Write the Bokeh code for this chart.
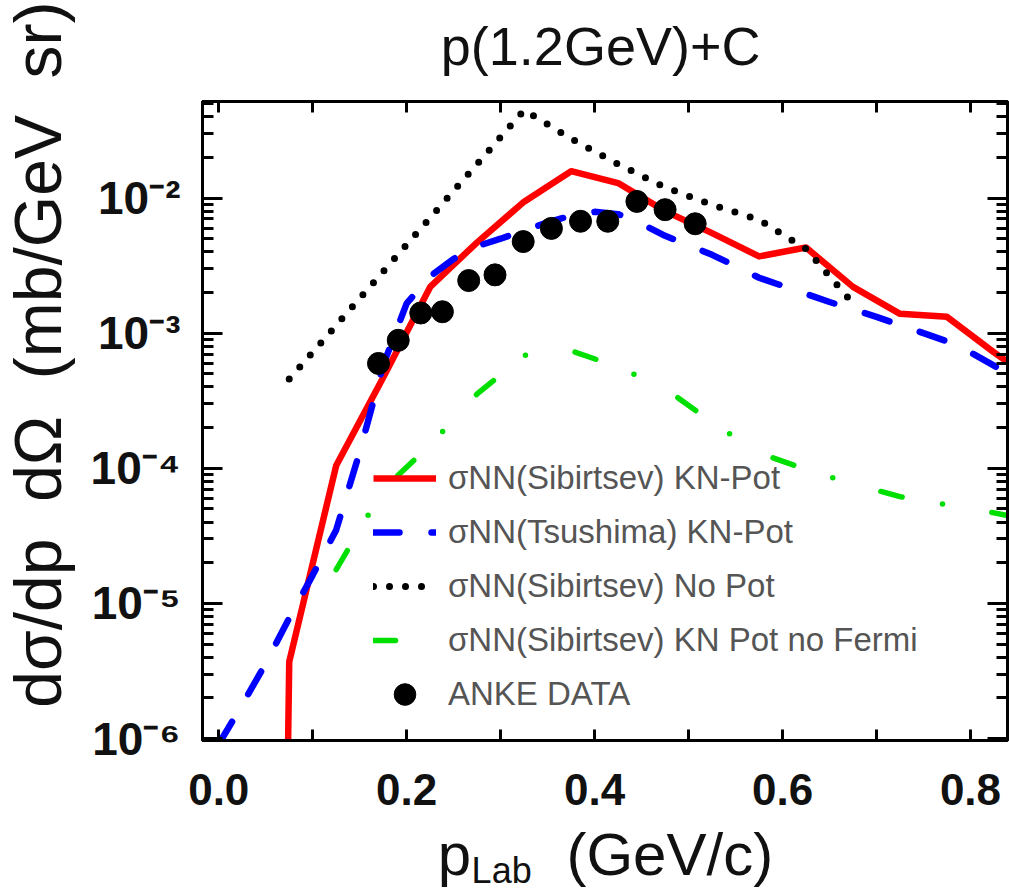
from bokeh.plotting import figure
from bokeh.models import (LinearAxis, LogAxis, FixedTicker, PrintfTickFormatter,
                          CustomJSTickFormatter, Range1d, Label, Legend, LegendItem)
from bokeh.embed import file_html
from bokeh.resources import INLINE

# --- model curves: d(sigma)/dp dOmega in mb/(GeV sr) vs p_Lab in GeV/c ---
sib_kn_p = [0.025, 0.075, 0.125, 0.175, 0.225, 0.275, 0.325, 0.375, 0.425,
            0.475, 0.525, 0.575, 0.625, 0.675, 0.725, 0.775, 0.825, 0.875]
sib_kn_xs = [1e-30, 3.7e-6, 1.05e-4, 4.7e-4, 2.2e-3, 4.7e-3, 9.4e-3, 1.58e-2, 1.29e-2,
             8.0e-3, 5.5e-3, 3.7e-3, 4.3e-3, 2.2e-3, 1.39e-3, 1.32e-3, 7.2e-4, 4.1e-4]

tsu_kn_p = [0.0, 0.025, 0.05, 0.075, 0.1, 0.125, 0.15, 0.175, 0.2, 0.225, 0.25, 0.275,
            0.3, 0.325, 0.35, 0.375, 0.4, 0.425, 0.45, 0.475, 0.5, 0.525, 0.55, 0.575,
            0.6, 0.625, 0.65, 0.675, 0.7, 0.725, 0.75, 0.775, 0.8, 0.825, 0.85]
tsu_kn_xs = [9.1e-7, 1.78e-6, 3.6e-6, 7.8e-6, 1.62e-5, 3.5e-5, 1.32e-4, 5.8e-4, 1.66e-3,
             2.63e-3, 3.55e-3, 4.4e-3, 5.0e-3, 5.75e-3, 6.6e-3, 7.4e-3, 7.9e-3, 7.6e-3,
             6.45e-3, 5.25e-3, 4.47e-3, 3.8e-3, 3.13e-3, 2.57e-3, 2.24e-3, 1.95e-3,
             1.70e-3, 1.50e-3, 1.32e-3, 1.15e-3, 1.0e-3, 8.7e-4, 7.2e-4, 5.75e-4, 4.5e-4]

sib_nopot_p = [0.075, 0.325, 0.375, 0.425, 0.475, 0.525, 0.575, 0.625, 0.675]
sib_nopot_xs = [4.57e-4, 4.47e-2, 2.75e-2, 1.78e-2, 1.2e-2, 8.9e-3, 6.9e-3, 4.2e-3, 1.66e-3]

sib_nofermi_p = [0.125, 0.175, 0.225, 0.275, 0.325, 0.375, 0.425, 0.475, 0.525,
                 0.575, 0.625, 0.675, 0.725, 0.775, 0.825, 0.875]
sib_nofermi_xs = [1.78e-5, 6.97e-5, 1.49e-4, 3.55e-4, 6.84e-4, 7.41e-4, 5.62e-4, 3.89e-4,
                  2.19e-4, 1.30e-4, 9.8e-5, 7.66e-5, 6.17e-5, 5.37e-5, 4.68e-5, 3.98e-5]

# --- ANKE measurement ---
anke_p = [0.170, 0.191, 0.215, 0.238, 0.266, 0.294, 0.324, 0.354, 0.385, 0.414,
          0.445, 0.475, 0.507]
anke_xs = [5.97e-4, 8.85e-4, 1.41e-3, 1.44e-3, 2.45e-3, 2.70e-3, 4.76e-3, 5.96e-3,
           6.73e-3, 6.73e-3, 9.44e-3, 8.2e-3, 6.45e-3]

legend_labels = ["\u03c3NN(Sibirtsev) KN-Pot", "\u03c3NN(Tsushima) KN-Pot",
                 "\u03c3NN(Sibirtsev) No Pot", "\u03c3NN(Sibirtsev) KN Pot no Fermi",
                 "ANKE DATA"]

x_major = [0.0, 0.2, 0.4, 0.6, 0.8]
x_minor = [0.1, 0.3, 0.5, 0.7]
y_major = [1e-6, 1e-5, 1e-4, 1e-3, 1e-2]
y_minor = [m * d for d in [1e-7, 1e-6, 1e-5, 1e-4, 1e-3, 1e-2] for m in range(2, 10)]

FONT = "Liberation Sans"

p = figure(width=1009, height=895, y_axis_type="log",
           x_range=Range1d(-0.0173, 0.8394), y_range=Range1d(0.967e-6, 0.0518),
           output_backend="svg", toolbar_location=None,
           min_border_left=202, min_border_right=2, min_border_top=96,
           min_border_bottom=155)
p.grid.visible = False
p.outline_line_color = "black"
p.outline_line_width = 3
p.background_fill_color = "white"
p.border_fill_color = "white"

sup_code = """
const sup = {"-": "\u207b", "0": "\u2070", "1": "\u00b9", "2": "\u00b2", "3": "\u00b3",
             "4": "\u2074", "5": "\u2075", "6": "\u2076", "7": "\u2077", "8": "\u2078",
             "9": "\u2079"};
const e = Math.round(Math.log10(tick));
return "10" + String(e).split("").map(c => sup[c]).join("");
"""


def frame_axis(ax, tick_in, minor_in):
    ax.axis_line_width = 3
    ax.major_tick_line_width = 3
    ax.minor_tick_line_width = 3
    ax.major_tick_in = tick_in
    ax.major_tick_out = 0
    ax.minor_tick_in = minor_in
    ax.minor_tick_out = 0


def silent(ax):
    ax.formatter = CustomJSTickFormatter(code="return '';")
    ax.major_label_text_font_size = "0px"
    ax.major_label_standoff = 0


xb = p.xaxis[0]
xb.ticker = FixedTicker(ticks=x_major, minor_ticks=x_minor)
xb.formatter = PrintfTickFormatter(format="%.1f")
frame_axis(xb, 11, 11)
xb.major_label_text_font = FONT
xb.major_label_text_font_style = "bold"
xb.major_label_text_font_size = "44px"
xb.major_label_text_color = "#111111"
xb.major_label_standoff = 33

yl = p.yaxis[0]
yl.ticker = FixedTicker(ticks=y_major, minor_ticks=y_minor)
yl.formatter = CustomJSTickFormatter(code=sup_code)
frame_axis(yl, 20, 11)
yl.major_label_text_font = FONT
yl.major_label_text_font_style = "bold"
yl.major_label_text_font_size = "46px"
yl.major_label_text_color = "#111111"
yl.major_label_standoff = 22

xt = LinearAxis(ticker=FixedTicker(ticks=x_major, minor_ticks=x_minor))
frame_axis(xt, 11, 11)
silent(xt)
p.add_layout(xt, "above")

yr = LogAxis(ticker=FixedTicker(ticks=y_major, minor_ticks=y_minor))
frame_axis(yr, 20, 11)
silent(yr)
p.add_layout(yr, "right")

r_sib = p.line(sib_kn_p, sib_kn_xs, line_color="#ff0000", line_width=6.5,
               line_join="round")
r_tsu = p.line(tsu_kn_p, tsu_kn_xs, line_color="#0000ff", line_width=6.5,
               line_dash="26 32", line_cap="round")
r_nopot = p.line(sib_nopot_p, sib_nopot_xs, line_color="black", line_width=7,
                 line_dash="0 16", line_cap="round")
r_nofermi = p.line(sib_nofermi_p, sib_nofermi_xs, line_color="#00e000", line_width=5.5,
                   line_dash="22 41 0 50", line_cap="round")
r_anke = p.scatter(anke_p, anke_xs, marker="circle", size=22, color="black")

legend = Legend(items=[LegendItem(label=legend_labels[0], renderers=[r_sib]),
                       LegendItem(label=legend_labels[1], renderers=[r_tsu]),
                       LegendItem(label=legend_labels[2], renderers=[r_nopot]),
                       LegendItem(label=legend_labels[3], renderers=[r_nofermi]),
                       LegendItem(label=legend_labels[4], renderers=[r_anke])],
                location=(171, 19), glyph_width=63, glyph_height=54, label_height=54,
                spacing=0, padding=0, margin=0, label_standoff=12,
                label_text_font=FONT, label_text_font_size="33px",
                label_text_color="#555555", border_line_color=None,
                background_fill_alpha=0)
p.add_layout(legend)


def outside_text(text, x, y, size, panel, angle=0, align="left"):
    # text outside the frame, anchored in data coordinates of the plot scales
    lab = Label(x=x, y=y, text=text, text_font=FONT, text_font_size=size,
                text_align=align, text_baseline="alphabetic", text_color="#111111",
                angle=angle, angle_units="deg")
    p.add_layout(lab, panel)


outside_text("p(1.2GeV)+C", 0.4064, 0.1335, "54px", "above", align="center")
outside_text("Lab", 0.2691, 1.056e-7, "36px", "above")
outside_text("d\u03c3/dp \u00a0d\u03a9 \u00a0(mb/GeV \u00a0sr)", -0.1926, 1.69e-6,
             "66px", "left", angle=90)
outside_text("p" + "\u00a0" * 5 + "\u2009(GeV/c)", 0.233, 1.387e-7, "60px", "below")

open("out.html", "w").write(file_html(p, INLINE))
